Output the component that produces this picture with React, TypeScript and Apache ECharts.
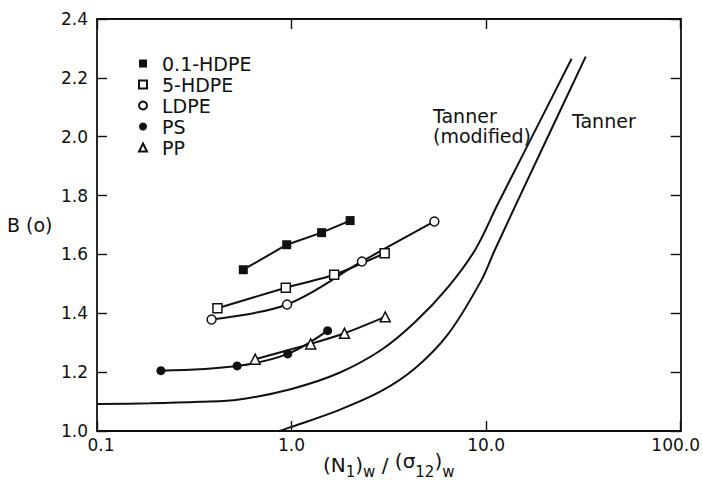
import React, { useEffect, useRef } from "react";
import * as echarts from "echarts";

const xTicks = [0.1, 1, 10, 100];
const yMin = 1.0;
const yMax = 2.4;
const yStep = 0.2;

const hdpe01X = [0.565, 0.944, 1.427, 2.0];
const hdpe01Y = [1.548, 1.633, 1.674, 1.715];
const hdpe5X = [0.416, 0.934, 1.656, 3.01];
const hdpe5Y = [1.417, 1.487, 1.531, 1.604];
const ldpeX = [0.388, 0.948, 2.3, 5.42];
const ldpeY = [1.379, 1.43, 1.576, 1.712];
const psX = [0.213, 0.525, 0.956, 1.532];
const psY = [1.205, 1.221, 1.262, 1.341];
const ppX = [0.65, 1.254, 1.871, 3.03];
const ppY = [1.244, 1.296, 1.332, 1.388];

const tannerModX = [0.1, 0.187, 0.337, 0.538, 1.0, 1.75, 2.9, 4.33, 6.39, 8.79, 11.5, 15.46, 27.5];
const tannerModY = [1.092, 1.094, 1.099, 1.107, 1.143, 1.197, 1.276, 1.371, 1.49, 1.616, 1.772, 1.939, 2.265];
const tannerX = [0.863, 1.0, 1.75, 2.9, 4.33, 6.39, 9.42, 11.1, 19.1, 32.5];
const tannerY = [1.0, 1.014, 1.071, 1.136, 1.214, 1.33, 1.51, 1.616, 1.949, 2.272];

const seriesNames = ["0.1-HDPE", "5-HDPE", "LDPE", "PS", "PP"];

const zip = (xs: number[], ys: number[]) => xs.map((x, i) => [x, ys[i]]);

const FONT = "DejaVu Sans";

export default function App() {
  const ref = useRef<HTMLDivElement>(null);
  useEffect(() => {
    if (!ref.current) return;
    const chart = echarts.init(ref.current, null, { renderer: "svg" });
    const black = "#111";
    const axisCommon = {
      axisLine: { show: true, lineStyle: { color: black, width: 1.8 } },
      axisTick: { show: true, inside: true, length: 10, lineStyle: { color: black, width: 1.4 } },
      splitLine: { show: false },
      minorTick: { show: false },
    };
    const xFmt = (v: number) => {
      const s = v < 0.5 ? "0.1" : v.toFixed(1);
      if (v < 0.5) return "{l|" + s + "}";
      if (v > 50) return "{r|" + s + "}";
      return s;
    };
    const hollow = { color: "#fff", borderColor: black, borderWidth: 1.5 };
    const filled = { color: black, borderColor: black, borderWidth: 0 };
    const lineStyle = { color: black, width: 2 };
    const mk = (name: string, xs: number[], ys: number[], symbol: string, size: number, item: any, smooth: number) => ({
      name,
      type: "line",
      data: zip(xs, ys),
      symbol,
      symbolSize: size,
      showSymbol: true,
      smooth,
      itemStyle: item,
      lineStyle,
      z: 3,
    });
    chart.setOption({
      animation: false,
      backgroundColor: "#fff",
      grid: { left: 97, right: 19, top: 19, bottom: 54 },
      legend: {
        orient: "vertical",
        left: 138,
        top: 53,
        padding: 0,
        itemWidth: 8,
        itemHeight: 8,
        itemGap: 0,
        itemTextGap: 17,
        textStyle: { fontFamily: FONT, fontSize: 19, color: black, lineHeight: 21, padding: [0, 0, 0, 10] },
        data: [
          { name: seriesNames[0], icon: "rect" },
          { name: seriesNames[1], icon: "rect" },
          { name: seriesNames[2], icon: "circle" },
          { name: seriesNames[3], icon: "circle" },
          { name: seriesNames[4], icon: "triangle" },
        ],
      },
      xAxis: [
        {
          type: "log",
          logBase: 10,
          min: xTicks[0],
          max: xTicks[xTicks.length - 1],
          position: "bottom",
          ...axisCommon,
          axisLabel: {
            formatter: xFmt,
            fontFamily: FONT,
            fontSize: 17,
            color: black,
            margin: 5,
            rich: {
              l: { fontFamily: FONT, fontSize: 17, color: black, padding: [0, 0, 0, 8] },
              r: { fontFamily: FONT, fontSize: 17, color: black, padding: [0, 10, 0, 0] },
            },
          },
        },
        {
          type: "log",
          logBase: 10,
          min: xTicks[0],
          max: xTicks[xTicks.length - 1],
          position: "top",
          ...axisCommon,
          axisLabel: { show: false },
        },
      ],
      yAxis: [
        {
          type: "value",
          min: yMin,
          max: yMax,
          interval: yStep,
          position: "left",
          ...axisCommon,
          axisLabel: {
            formatter: (v: number) => v.toFixed(1),
            fontFamily: FONT,
            fontSize: 17,
            color: black,
            margin: 9,
          },
        },
        {
          type: "value",
          min: yMin,
          max: yMax,
          interval: yStep,
          position: "right",
          ...axisCommon,
          axisLabel: { show: false },
        },
      ],
      series: [
        mk(seriesNames[0], hdpe01X, hdpe01Y, "rect", 9, filled, 0),
        mk(seriesNames[1], hdpe5X, hdpe5Y, "rect", 9, hollow, 0.2),
        mk(seriesNames[2], ldpeX, ldpeY, "circle", 9, hollow, 0.35),
        mk(seriesNames[3], psX, psY, "circle", 9, filled, 0.35),
        mk(seriesNames[4], ppX, ppY, "triangle", 10, hollow, 0.2),
        {
          name: "Tanner (modified)",
          type: "line",
          data: zip(tannerModX, tannerModY),
          showSymbol: false,
          symbol: "none",
          smooth: 0.35,
          lineStyle,
          z: 2,
        },
        {
          name: "Tanner",
          type: "line",
          data: zip(tannerX, tannerY),
          showSymbol: false,
          symbol: "none",
          smooth: 0.35,
          lineStyle,
          z: 2,
        },
      ],
      graphic: [
        {
          type: "text",
          left: 7,
          top: 215,
          style: { text: "B (o)", fontFamily: FONT, fontSize: 19, fill: black },
        },
        {
          type: "text",
          left: 433,
          top: 106,
          style: { text: "Tanner\n(modified)", fontFamily: FONT, fontSize: 19, lineHeight: 20, fill: black },
        },
        {
          type: "text",
          left: 572,
          top: 111,
          style: { text: "Tanner", fontFamily: FONT, fontSize: 19, fill: black },
        },
        {
          type: "text",
          left: 323,
          top: 451,
          style: {
            text: "{m|(N}{s|1}{m|)}{s|w}{m| / }{u|(σ}{s|12}{u|)}{s|w}",
            fill: black,
            rich: {
              m: { fontFamily: FONT, fontSize: 20, lineHeight: 28, fill: black },
              u: { fontFamily: FONT, fontSize: 20, lineHeight: 20, verticalAlign: "top", fill: black },
              s: { fontFamily: FONT, fontSize: 15, lineHeight: 15, verticalAlign: "bottom", fill: black },
            },
          },
        },
      ],
    });
    return () => chart.dispose();
  }, []);
  return (
    <div
      ref={ref}
      style={{ position: "fixed", left: 0, top: 0, width: 703, height: 485, background: "#fff" }}
    />
  );
}
